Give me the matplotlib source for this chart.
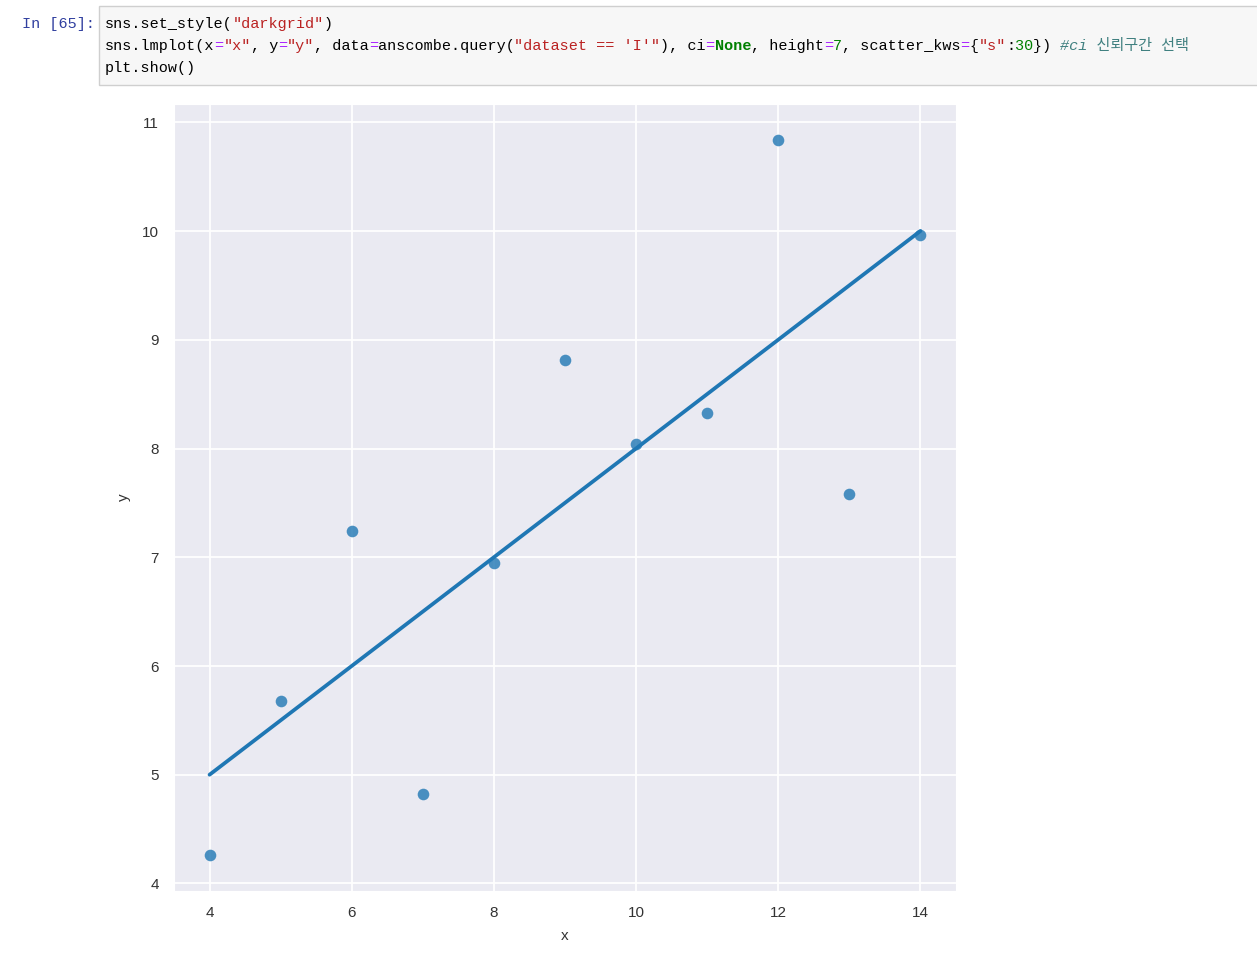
import matplotlib
matplotlib.use("Agg")
import matplotlib.pyplot as plt
import numpy as np
import pandas as pd
import seaborn as sns
from matplotlib.patches import Rectangle

# Anscombe's quartet, dataset I
x_vals = [10, 8, 13, 9, 11, 14, 6, 4, 12, 7, 5]
y_vals = [8.04, 6.95, 7.58, 8.81, 8.33, 9.96, 7.24, 4.26, 10.84, 4.82, 5.68]
x_ticks = [4, 6, 8, 10, 12, 14]
y_ticks = [4, 5, 6, 7, 8, 9, 10, 11]

# notebook cell text, one list of (text, colour, style) tokens per line
BLACK, OP, STR, NUM, COM = "#000000", "#AA22FF", "#BA2121", "#008000", "#408080"
code_lines = [
    [("sns.set_style(", BLACK, ""), ('"darkgrid"', STR, ""), (")", BLACK, "")],
    [("sns.lmplot(x", BLACK, ""), ("=", OP, ""), ('"x"', STR, ""), (", y", BLACK, ""),
     ("=", OP, ""), ('"y"', STR, ""), (", data", BLACK, ""), ("=", OP, ""),
     ("anscombe.query(", BLACK, ""), ("\"dataset == 'I'\"", STR, ""), ("), ci", BLACK, ""),
     ("=", OP, ""), ("None", NUM, "bold"), (", height", BLACK, ""), ("=", OP, ""),
     ("7", NUM, ""), (", scatter_kws", BLACK, ""), ("=", OP, ""), ("{", BLACK, ""),
     ('"s"', STR, ""), (":", BLACK, ""), ("30", NUM, ""), ("}) ", BLACK, ""),
     ("#ci 신뢰구간 선택", COM, "italic")],
    [("plt.show()", BLACK, "")],
]

W, H = 1257, 964
sns.set_style("darkgrid")
plt.rcParams["font.family"] = ["Liberation Sans", "DejaVu Sans"]

fig = plt.figure(figsize=(W / 100, H / 100), dpi=100)


def fx(px):
    return px / W


def fy(py):
    return 1 - py / H


# code cell
fig.patches.append(Rectangle((fx(99), fy(85)), fx(1170), (85 - 6) / H,
                             transform=fig.transFigure, facecolor="#F7F7F7",
                             edgecolor="#CFCFCF", linewidth=1))
fig.text(fx(22), fy(24), "In [65]:", color="#303F9F", fontsize=10.9,
         family=["Liberation Mono", "DejaVu Sans Mono"], va="center")

char_w = 9.1
mono = ["Liberation Mono", "Noto Sans CJK KR", "DejaVu Sans Mono"]
for i, tokens in enumerate(code_lines):
    col = 0
    for text, color, style in tokens:
        fig.text(fx(105 + col * char_w), fy(24 + 22 * i), text, color=color,
                 fontsize=10.9, family=mono, va="center",
                 fontweight="bold" if style == "bold" else "normal",
                 fontstyle="italic" if style == "italic" else "normal")
        col += len(text)

# plot
ax = fig.add_axes([fx(174), fy(891), fx(956 - 174), (891 - 104) / H])
df = pd.DataFrame({"x": x_vals, "y": y_vals})
sns.regplot(x="x", y="y", data=df, ci=None, ax=ax, color="#1f77b4",
            scatter_kws={"s": 70, "linewidths": 0}, line_kws={"lw": 2.7})
ax.set_xticks(x_ticks)
ax.set_yticks(y_ticks)
ax.tick_params(labelsize=11, pad=7.5, colors="#333333")
ax.grid(color="white", linewidth=1.3)
ax.set_xlabel("x", fontsize=11, labelpad=6, color="#333333")
ax.set_ylabel("y", fontsize=11, labelpad=8, color="#333333")

fig.savefig("out.png", dpi=100)
